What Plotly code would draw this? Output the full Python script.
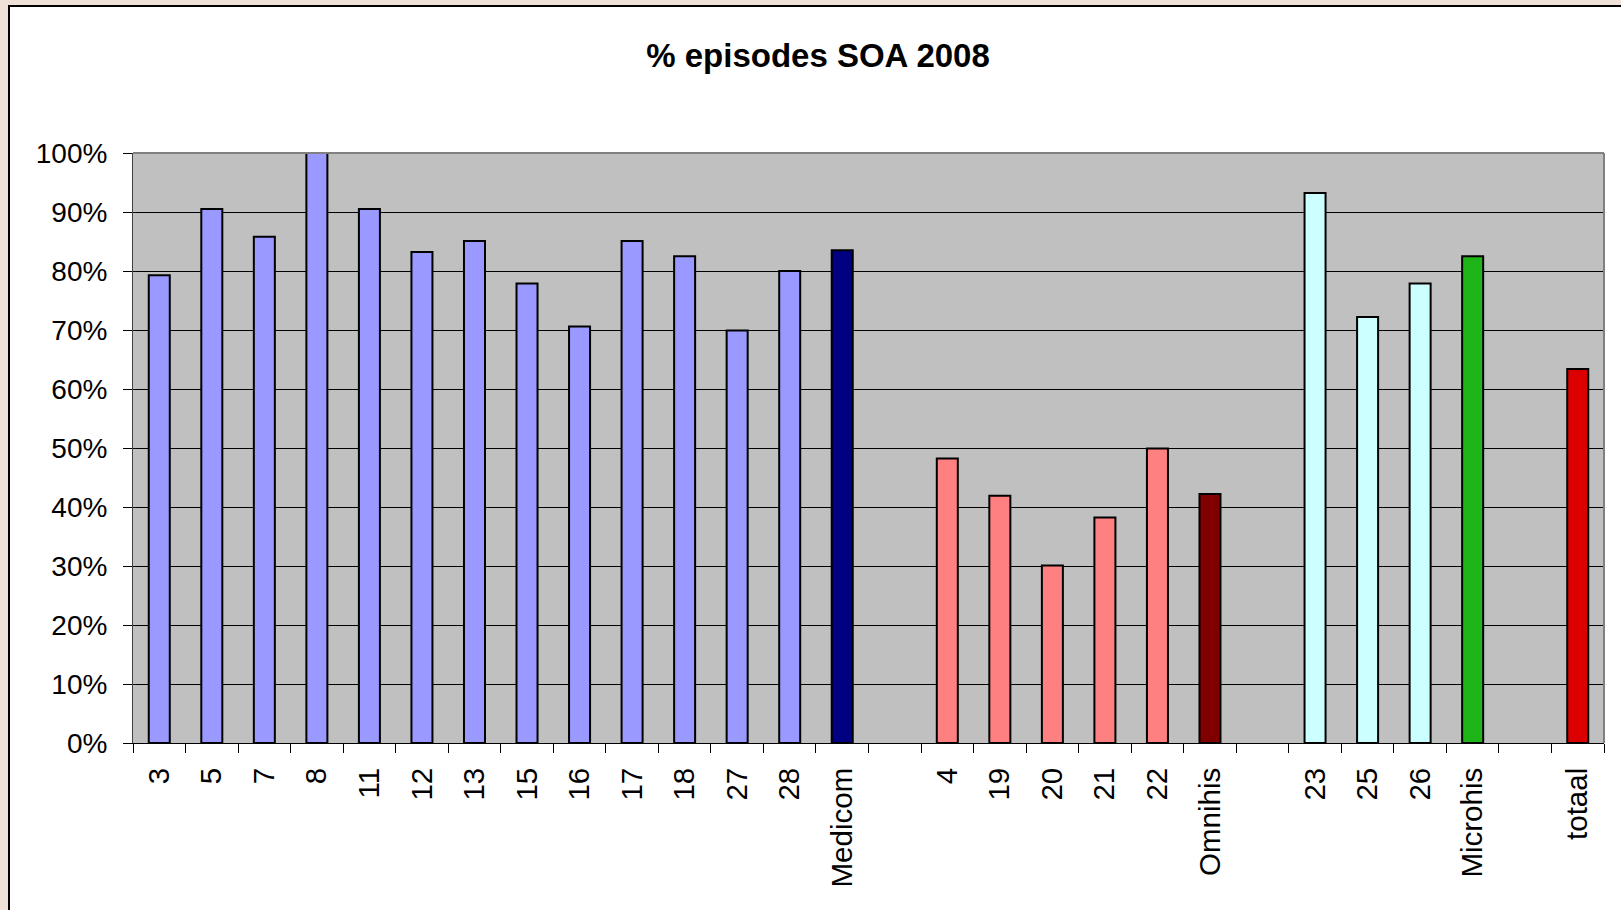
import plotly.graph_objects as go

# ---- data ----
categories = ["3", "5", "7", "8", "11", "12", "13", "15", "16", "17", "18", "27", "28", "Medicom",
              " ",
              "4", "19", "20", "21", "22", "Omnihis",
              "  ",
              "23", "25", "26", "Microhis",
              "   ",
              "totaal"]
values = [0.793, 0.905, 0.858, 1.000, 0.905, 0.832, 0.851, 0.779, 0.706, 0.851, 0.825, 0.699, 0.800, 0.835,
          None,
          0.482, 0.419, 0.301, 0.382, 0.499, 0.422,
          None,
          0.932, 0.722, 0.779, 0.825,
          None,
          0.634]
groups = (["medicom"] * 13 + ["medicom_total", "gap"]
          + ["omnihis"] * 5 + ["omnihis_total", "gap"]
          + ["microhis"] * 3 + ["microhis_total", "gap", "total"])
group_colors = {
    "medicom": "#9999FF",
    "medicom_total": "#000080",
    "omnihis": "#FF8080",
    "omnihis_total": "#800000",
    "microhis": "#CCFFFF",
    "microhis_total": "#1FB418",
    "total": "#DD0000",
    "gap": "rgba(0,0,0,0)",
}
colors = [group_colors[g] for g in groups]

title_text = "% episodes SOA 2008"

# ---- figure ----
W, H = 1621, 910
L, R, T, B = 133, 17, 153, 167
pw, ph = W - L - R, H - T - B

fig = go.Figure()
fig.add_trace(go.Bar(
    x=categories, y=values,
    marker=dict(color=colors, line=dict(color="black", width=2)),
    width=0.4,
    showlegend=False,
    hoverinfo="x+y",
))

font_family = "Liberation Sans, Arial, sans-serif"

fig.update_layout(
    width=W, height=H,
    margin=dict(l=L, r=R, t=T, b=B, pad=0),
    paper_bgcolor="#efe1d7",
    plot_bgcolor="rgba(0,0,0,0)",
    font=dict(family=font_family, color="black"),
    title=dict(
        text="<b>" + title_text + "</b>",
        xref="container", yref="container",
        x=818 / W, y=1 - 55 / H,
        xanchor="center", yanchor="middle",
        font=dict(family=font_family, size=33, color="black"),
    ),
    xaxis=dict(
        type="category",
        categoryorder="array", categoryarray=categories,
        tickangle=-90,
        tickfont=dict(size=29.5, family=font_family, color="black"),
        ticks="outside", ticklen=9, tickwidth=1, tickcolor="black",
        tickson="boundaries",
        ticklabelstandoff=12,
        showline=True, linecolor="black", linewidth=1,
        showgrid=False, zeroline=False,
        range=[-0.5, len(categories) - 0.5],
    ),
    yaxis=dict(
        range=[0, 1],
        dtick=0.1, tick0=0,
        tickformat=".0%",
        tickfont=dict(size=28, family=font_family, color="black"),
        ticks="outside", ticklen=9, tickwidth=1, tickcolor="black",
        ticklabelstandoff=10,
        showline=True, linecolor="#404040", linewidth=1,
        showgrid=True, gridcolor="black", gridwidth=1,
        zeroline=False,
    ),
    shapes=[
        # white chart box with black border
        dict(type="rect", xref="paper", yref="paper",
             x0=(9 - L) / pw, x1=(W + 10 - L) / pw,
             y0=-(H + 10 - (H - B)) / ph, y1=((H - B) - 6) / ph,
             fillcolor="white", line=dict(color="black", width=2),
             layer="below"),
        # gray plot area background
        dict(type="rect", xref="paper", yref="paper",
             x0=0, x1=1, y0=0, y1=1,
             fillcolor="#C0C0C0", line=dict(width=0),
             layer="below"),
        # gray top / right border of plot area
        dict(type="line", xref="paper", yref="paper", x0=0, x1=1, y0=1, y1=1,
             line=dict(color="#808080", width=2), layer="above"),
        dict(type="line", xref="paper", yref="paper", x0=1, x1=1, y0=0, y1=1,
             line=dict(color="#808080", width=2), layer="above"),
    ],
)

fig.write_html("out.html",
               config={"displayModeBar": False},
               post_script="document.body.style.margin='0';document.body.style.overflow='hidden';")
